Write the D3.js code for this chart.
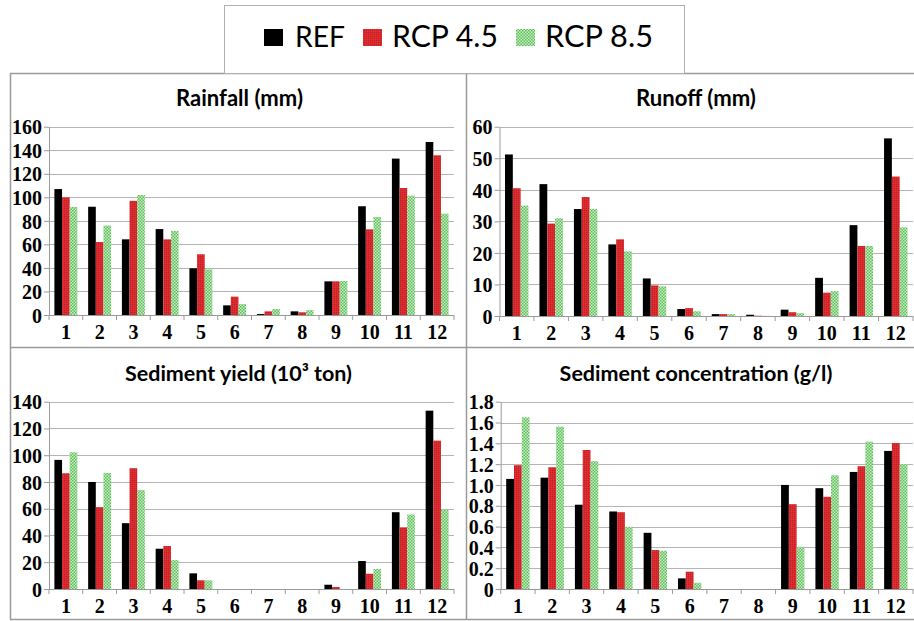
<!DOCTYPE html>
<html>
<head>
<meta charset="utf-8">
<script src="https://cdn.jsdelivr.net/npm/d3@7"></script>
<style>
  html, body { margin: 0; padding: 0; background: #fff; }
  svg { display: block; }
  .tk text { font-family: "Liberation Serif", "Times New Roman", serif !important; font-weight: 700; font-size: 20px; fill: #000; }
</style>
</head>
<body>
<svg id="chart" width="914" height="621"></svg>
<script>
// ---------------- DATA ----------------
const months = ["1","2","3","4","5","6","7","8","9","10","11","12"];
const seriesNames = ["REF", "RCP 4.5", "RCP 8.5"];

const rainfallREF  = [107, 92, 64.3, 73, 39.7, 8.2, 0.8, 3.1, 28.6, 92.4, 132.9, 147];
const rainfall45   = [100, 62, 97, 64.3, 51.6, 15.6, 3.1, 2.3, 28.6, 72.8, 107.9, 135.7];
const rainfall85   = [91.8, 76, 102, 71.4, 38.8, 9.3, 5.1, 4.2, 28.9, 83.3, 101.4, 86.1];

const runoffREF    = [51.2, 41.8, 33.9, 22.7, 11.9, 2.2, 0.6, 0.4, 2.0, 12.1, 28.8, 56.3];
const runoff45     = [40.5, 29.3, 37.7, 24.3, 9.7, 2.5, 0.6, 0.1, 1.2, 7.4, 22.2, 44.2];
const runoff85     = [35, 31, 33.9, 20.5, 9.4, 1.5, 0.6, 0.05, 0.9, 7.9, 22.2, 28.1];

const sedYieldREF  = [96.5, 80, 49.2, 30.1, 11.7, 0, 0, 0, 3.2, 20.9, 57.4, 133.3];
const sedYield45   = [86.5, 61.2, 90.3, 32.1, 6.5, 0, 0, 0, 1.5, 11.4, 46.1, 110.9];
const sedYield85   = [102.2, 86.8, 73.9, 21.6, 6.5, 0, 0, 0, 0, 14.9, 55.7, 59.2];

const sedConcREF   = [1.058, 1.07, 0.81, 0.745, 0.54, 0.102, 0, 0, 1.0, 0.969, 1.125, 1.327];
const sedConc45    = [1.19, 1.17, 1.336, 0.738, 0.374, 0.166, 0, 0, 0.815, 0.886, 1.18, 1.403];
const sedConc85    = [1.65, 1.56, 1.228, 0.598, 0.368, 0.06, 0, 0, 0.406, 1.093, 1.416, 1.199];

const rainfallTicks = [0, 20, 40, 60, 80, 100, 120, 140, 160];
const runoffTicks   = [0, 10, 20, 30, 40, 50, 60];
const sedYieldTicks = [0, 20, 40, 60, 80, 100, 120, 140];
const sedConcTicks  = [0, 0.2, 0.4, 0.6, 0.8, 1.0, 1.2, 1.4, 1.6, 1.8];
const sedConcTickLabels = ["0", "0.2", "0.4", "0.6", "0.8", "1.0", "1.2", "1.4", "1.6", "1.8"];

const panelTitles = ["Rainfall (mm)", "Runoff (mm)", "Sediment yield (10\u00B3 ton)", "Sediment concentration (g/l)"];

// ---------------- DRAWING ----------------
const svg = d3.select("#chart");
const defs = svg.append("defs");

// red fine-textured pattern
const pr = defs.append("pattern").attr("id", "patRed").attr("patternUnits", "userSpaceOnUse")
  .attr("width", 2).attr("height", 2);
pr.append("rect").attr("width", 2).attr("height", 2).attr("fill", "#d8282c");
pr.append("rect").attr("width", 1).attr("height", 1).attr("fill", "#c42025");
pr.append("rect").attr("x", 1).attr("y", 1).attr("width", 1).attr("height", 1).attr("fill", "#e03538");

// green checkered pattern
const pg = defs.append("pattern").attr("id", "patGreen").attr("patternUnits", "userSpaceOnUse")
  .attr("width", 3).attr("height", 3);
pg.append("rect").attr("width", 3).attr("height", 3).attr("fill", "#c9ecc4");
pg.append("rect").attr("width", 1.5).attr("height", 1.5).attr("fill", "#5cbf58");
pg.append("rect").attr("x", 1.5).attr("y", 1.5).attr("width", 1.5).attr("height", 1.5).attr("fill", "#5cbf58");

const fills = ["#000000", "url(#patRed)", "url(#patGreen)"];

const frameColor = "#9a9a9a";
const gridColor = "#b4b4b4";
const axisColor = "#9a9a9a";

// frame lines
const frame = svg.append("g");
frame.append("line").attr("x1", 10).attr("x2", 914).attr("y1", 73.5).attr("y2", 73.5);
frame.append("line").attr("x1", 10).attr("x2", 914).attr("y1", 347.5).attr("y2", 347.5);
frame.append("line").attr("x1", 10).attr("x2", 914).attr("y1", 619.5).attr("y2", 619.5);
frame.append("line").attr("x1", 10.5).attr("x2", 10.5).attr("y1", 73.5).attr("y2", 619.5);
frame.append("line").attr("x1", 466.5).attr("x2", 466.5).attr("y1", 73.5).attr("y2", 619.5);
frame.selectAll("line").attr("stroke", frameColor).attr("stroke-width", 1.5);

// legend box
svg.append("rect").attr("x", 224.5).attr("y", 5.5).attr("width", 460).attr("height", 68)
  .attr("fill", "#fff").attr("stroke", "#b0b0b0").attr("stroke-width", 1);

const legendItems = [
  { name: seriesNames[0], sx: 264, tx: 295, tw: 50 },
  { name: seriesNames[1], sx: 363, tx: 392, tw: 106 },
  { name: seriesNames[2], sx: 516, tx: 545, tw: 108 }
];
const lg = svg.append("g");
legendItems.forEach((it, i) => {
  lg.append("rect").attr("x", it.sx).attr("y", 29).attr("width", 19).attr("height", 17).attr("fill", fills[i]);
  const t = lg.append("text").attr("x", it.tx).attr("y", 47)
    .attr("font-family", "Lato, 'Open Sans', sans-serif").attr("font-size", 28)
    .attr("fill", "#000").text(it.name);
  const w = t.node().getComputedTextLength();
  t.attr("font-size", 28 * it.tw / w);
});

const panels = [
  { title: panelTitles[0], data: [rainfallREF, rainfall45, rainfall85], ticks: rainfallTicks, labels: rainfallTicks.map(String),
    x0: 49, x1: 454, yTop: 126.7, yBase: 315, tcx: 239.5, tcy: 106, tw: 127 },
  { title: panelTitles[1], data: [runoffREF, runoff45, runoff85], ticks: runoffTicks, labels: runoffTicks.map(String),
    x0: 499.5, x1: 913, yTop: 126.7, yBase: 316, tcx: 696, tcy: 106, tw: 120 },
  { title: panelTitles[2], data: [sedYieldREF, sedYield45, sedYield85], ticks: sedYieldTicks, labels: sedYieldTicks.map(String),
    x0: 49, x1: 454, yTop: 401.7, yBase: 589, tcx: 238.5, tcy: 381, tw: 227 },
  { title: panelTitles[3], data: [sedConcREF, sedConc45, sedConc85], ticks: sedConcTicks, labels: sedConcTickLabels,
    x0: 500.7, x1: 913, yTop: 401.7, yBase: 589, tcx: 696, tcy: 381, tw: 273 }
];

panels.forEach(p => {
  const g = svg.append("g");
  const maxV = p.ticks[p.ticks.length - 1];
  const y = d3.scaleLinear().domain([0, maxV]).range([p.yBase, p.yTop]);
  const x = d3.scaleBand().domain(months).range([p.x0, p.x1]).paddingInner(0.32).paddingOuter(0.16);
  const xs = d3.scaleBand().domain(seriesNames).range([0, x.bandwidth()]).padding(0);
  const step = x.step();

  // title
  const t = g.append("text").attr("x", p.tcx).attr("y", p.tcy).attr("text-anchor", "middle")
    .attr("font-family", "Lato, 'Open Sans', sans-serif").attr("font-weight", 700)
    .attr("font-size", 17).attr("fill", "#000").text(p.title);
  const w = t.node().getComputedTextLength();
  t.attr("font-size", 17 * p.tw / w);

  // gridlines
  g.append("g").selectAll("line").data(p.ticks.filter(v => v > 0)).join("line")
    .attr("x1", p.x0).attr("x2", p.x1)
    .attr("y1", d => Math.round(y(d)) + 0.5).attr("y2", d => Math.round(y(d)) + 0.5)
    .attr("stroke", gridColor).attr("stroke-width", 1);

  // bars
  seriesNames.forEach((s, si) => {
    g.append("g").selectAll("rect").data(p.data[si]).join("rect")
      .attr("x", (d, i) => x(months[i]) + xs(s))
      .attr("y", d => y(d))
      .attr("width", xs.bandwidth())
      .attr("height", d => p.yBase - y(d))
      .attr("fill", fills[si]);
  });

  // y axis
  const yAxis = d3.axisLeft(y).tickValues(p.ticks).tickFormat((d, i) => p.labels[i]).tickSize(5).tickSizeOuter(0).tickPadding(2);
  const ya = g.append("g").attr("class", "tk").attr("transform", `translate(${p.x0},0)`).call(yAxis);
  ya.attr("font-family", null).attr("font-size", null);
  ya.select(".domain").attr("stroke", axisColor);
  ya.selectAll(".tick line").attr("stroke", axisColor);
  ya.selectAll(".tick text").attr("dy", "0.36em");

  // x axis
  const xAxis = d3.axisBottom(x).tickSize(0).tickPadding(10);
  const xa = g.append("g").attr("class", "tk").attr("transform", `translate(0,${p.yBase})`).call(xAxis);
  xa.attr("font-family", null).attr("font-size", null);
  xa.select(".domain").remove();
  xa.append("line").attr("x1", p.x0).attr("x2", p.x1).attr("y1", 0.5).attr("y2", 0.5).attr("stroke", axisColor);
  xa.append("g").selectAll("line").data(d3.range(months.length + 1)).join("line")
    .attr("x1", i => p.x0 + i * step).attr("x2", i => p.x0 + i * step)
    .attr("y1", 0).attr("y2", 5).attr("stroke", axisColor);
});
</script>
</body>
</html>
